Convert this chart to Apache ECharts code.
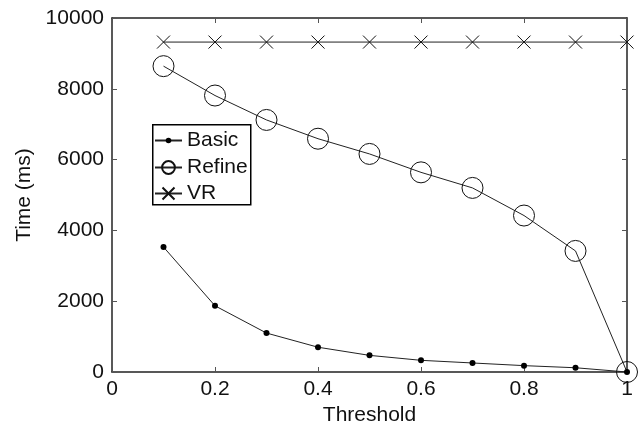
<!DOCTYPE html>
<html>
<head>
<meta charset="utf-8">
<script src="https://cdn.jsdelivr.net/npm/echarts@6/dist/echarts.min.js"></script>
<style>
  html, body { margin: 0; padding: 0; background: #fff; }
  #chart { width: 640px; height: 432px; }
</style>
</head>
<body>
<div id="chart"></div>
<script>
// threshold values on x
const thresholds = [0.1, 0.2, 0.3, 0.4, 0.5, 0.6, 0.7, 0.8, 0.9, 1.0];
// times in ms
const basic = [3530, 1870, 1100, 700, 470, 330, 255, 180, 120, 0];
const refine = [8640, 7810, 7120, 6590, 6160, 5640, 5200, 4420, 3420, 0];
const vr = [9320, 9320, 9320, 9320, 9320, 9320, 9320, 9320, 9320, 9320];

const pairs = (ys) => thresholds.map((x, i) => [x, ys[i]]);

const chart = echarts.init(document.getElementById('chart'));
const font = 'Liberation Sans, Arial, sans-serif';
const axisLine = { show: true, onZero: false, lineStyle: { color: '#222', width: 1.5 } };
const tick = { show: true, inside: true, length: 5, lineStyle: { color: '#555' } };
const labelStyle = { fontFamily: font, fontSize: 21, color: '#111' };

// one legend per series so each icon keeps its own marker size
function legendFor(name, top, itemHeight) {
    return {
        orient: 'vertical',
        left: 154,
        top: top,
        data: [name],
        padding: 0,
        itemWidth: 27,
        itemHeight: itemHeight,
        itemGap: 0,
        z: 6,
        textStyle: { fontFamily: font, fontSize: 21, color: '#111' }
    };
}

const option = {
    backgroundColor: '#fff',
    animation: false,
    grid: { left: 112, right: 13, top: 18, bottom: 60 },
    graphic: [{
        type: 'rect',
        left: 152, top: 124,
        shape: { width: 98, height: 80 },
        style: { fill: '#fff', stroke: '#000', lineWidth: 1.5 },
        z: 5
    }],
    legend: [
        legendFor('Basic', 130, 7),
        legendFor('Refine', 157, 16),
        legendFor('VR', 183, 15)
    ],
    xAxis: [{
        type: 'value',
        min: 0, max: 1, interval: 0.2,
        name: 'Threshold',
        nameLocation: 'middle',
        nameGap: 26,
        nameTextStyle: labelStyle,
        axisLine: axisLine,
        axisTick: tick,
        splitLine: { show: false },
        axisLabel: Object.assign({ margin: 7 }, labelStyle)
    }, {
        type: 'value', position: 'top',
        min: 0, max: 1, interval: 0.2,
        axisLine: axisLine, axisTick: tick,
        axisLabel: { show: false }, splitLine: { show: false }
    }],
    yAxis: [{
        type: 'value',
        min: 0, max: 10000, interval: 2000,
        name: 'Time (ms)',
        nameLocation: 'middle',
        nameGap: 71,
        nameTextStyle: labelStyle,
        axisLine: axisLine,
        axisTick: tick,
        splitLine: { show: false },
        axisLabel: Object.assign({ margin: 8, formatter: (v) => String(v) }, labelStyle)
    }, {
        type: 'value', position: 'right',
        min: 0, max: 10000, interval: 2000,
        axisLine: axisLine, axisTick: tick,
        axisLabel: { show: false }, splitLine: { show: false }
    }],
    series: [{
        name: 'Basic',
        type: 'line',
        data: pairs(basic),
        symbol: 'circle',
        symbolSize: 6,
        itemStyle: { color: '#000' },
        lineStyle: { color: '#222', width: 1 },
        z: 3
    }, {
        name: 'Refine',
        type: 'line',
        data: pairs(refine),
        symbol: 'circle',
        symbolSize: 21,
        itemStyle: { color: 'none', borderColor: '#111', borderWidth: 1 },
        lineStyle: { color: '#222', width: 1 },
        z: 2
    }, {
        name: 'VR',
        type: 'line',
        data: pairs(vr),
        symbol: 'path://M0,0L10,10M10,0L0,10',
        symbolSize: 13,
        itemStyle: { color: 'none', borderColor: '#111', borderWidth: 1 },
        lineStyle: { color: '#222', width: 1 },
        z: 2
    }]
};

chart.setOption(option);
</script>
</body>
</html>
